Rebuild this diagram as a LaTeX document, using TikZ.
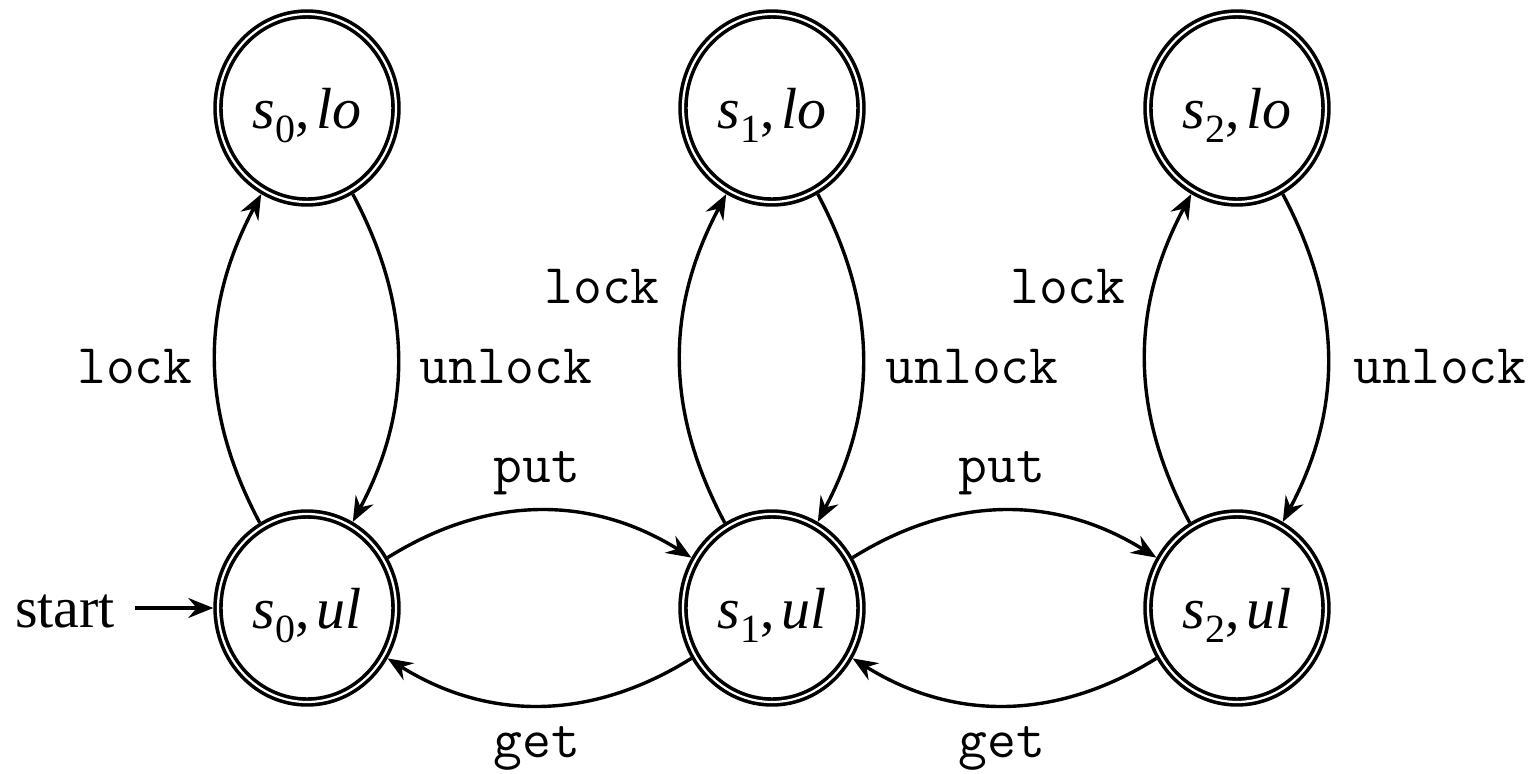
\documentclass[tikz,border=0pt]{standalone}
\usepackage{fontspec}
\setmainfont{Liberation Serif}
\usetikzlibrary{arrows.meta,shapes.geometric}
\newcommand\stlab[2]{\textit{s}\kern0.2pt\raisebox{-0.55ex}{\fontsize{8}{8}\selectfont #1},\kern1.2pt\textit{#2}}
\begin{document}
\begin{tikzpicture}[x=0.2pt,y=0.2pt,
  state/.style={ellipse, draw, double, double distance=0.45pt, line width=0.72pt,
    minimum width=35.6pt, minimum height=37.6pt, inner sep=0pt, outer sep=0.95pt,
    text depth=0pt, font=\fontsize{11.6}{13}\selectfont},
  lbl/.style={anchor=base, inner sep=0pt, font=\ttfamily\fontsize{11.2}{12}\selectfont},
  conn/.style={line width=0.68pt, -{Stealth[length=5pt,width=4pt,inset=1.7pt]}}]
\useasboundingbox (0,0) rectangle (1538,-774);
% states
\node[state] (s0lo) at (307,-108) {\stlab{0}{lo}};
\node[state] (s1lo) at (772,-108) {\stlab{1}{lo}};
\node[state] (s2lo) at (1237,-108) {\stlab{2}{lo}};
\node[state] (s0ul) at (307,-608) {\stlab{0}{ul}};
\node[state] (s1ul) at (772,-608) {\stlab{1}{ul}};
\node[state] (s2ul) at (1237,-608) {\stlab{2}{ul}};
% start
\node[anchor=base west, inner sep=0pt, font=\fontsize{11.6}{13}\selectfont] (start) at (14,-627) {start};
\coordinate (st0) at (135,-608);
\draw[conn] (st0) -- (s0ul.west);
% lock / unlock
\foreach \k in {0,1,2}{
  \draw[conn] (s\k ul.119) to[out=118,in=242] (s\k lo.242);
  \draw[conn] (s\k lo.298) to[out=298,in=62] (s\k ul.62);
}
% put / get
\draw[conn] (s0ul.32) to[out=32,in=148] (s1ul.148);
\draw[conn] (s1ul.32) to[out=32,in=148] (s2ul.148);
\draw[conn] (s1ul.212) to[out=212,in=328] (s0ul.328);
\draw[conn] (s2ul.212) to[out=212,in=328] (s1ul.328);
% labels
\node[lbl] (l0) at (135,-383) {lock};
\node[lbl] (u0) at (506,-383) {unlock};
\node[lbl] (l1) at (602,-303) {lock};
\node[lbl] (u1) at (972,-383) {unlock};
\node[lbl] (l2) at (1068,-303) {lock};
\node[lbl] (u2) at (1440,-383) {unlock};
\node[lbl] (p0) at (537,-482) {put};
\node[lbl] (p1) at (1002,-482) {put};
\node[lbl] (g0) at (537,-757) {get};
\node[lbl] (g1) at (1002,-757) {get};
\end{tikzpicture}
\end{document}
